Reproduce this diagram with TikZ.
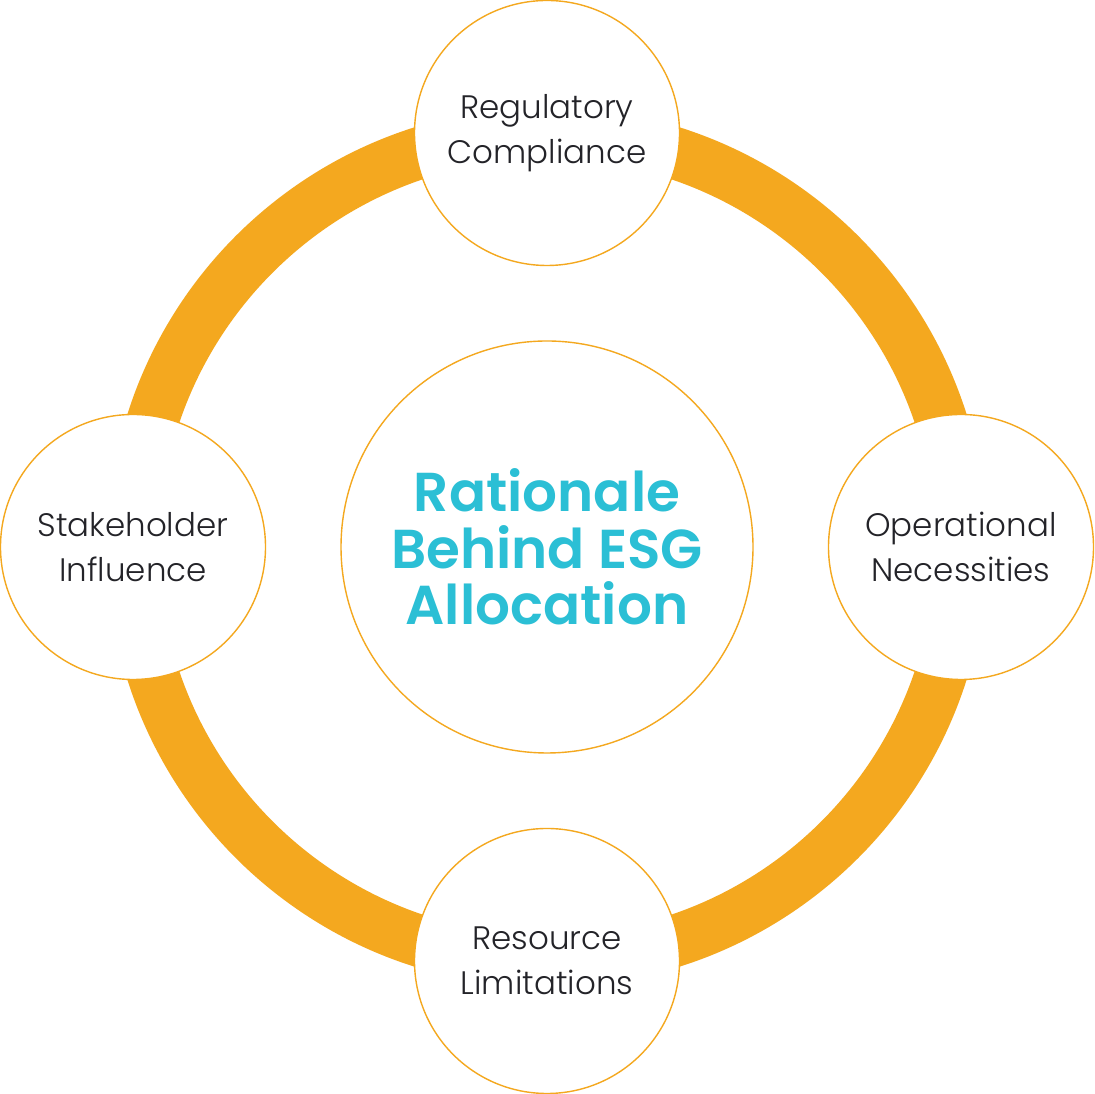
\documentclass[tikz,border=0pt]{standalone}
\usepackage{fontspec}
\setmainfont{Poppins}
\newfontfamily\lightfont{Poppins Light}
\newfontfamily\titlefont{Poppins SemiBold}
\usepackage{tikz}

\begin{document}
\begin{tikzpicture}[x=1pt,y=1pt]
\definecolor{fillColor}{RGB}{255,255,255}
\definecolor{ringColor}{RGB}{244,168,31}
\definecolor{titleColor}{RGB}{43,191,213}
\definecolor{textColor}{RGB}{35,35,40}
\tikzset{
  satellite/.style={circle,draw=ringColor,line width=1.4pt,fill=fillColor,minimum size=265pt,inner sep=0pt,
    text=textColor,align=center,font=\lightfont\fontsize{32.5}{45}\selectfont},
  hub/.style={circle,draw=ringColor,line width=1.4pt,fill=fillColor,minimum size=412pt,inner sep=0pt,
    text=titleColor,align=center,font=\titlefont\fontsize{54.8}{56.5}\selectfont}
}
\path[use as bounding box,fill=fillColor] (0,0) rectangle (1095,1094);

\path[draw=ringColor,line width=52pt] (547,547) circle (414);

\node[hub] (hub) at (547,547) {Rationale\\Behind ESG\\Allocation};

\node[satellite] (regulatory) at (547,961) {Regulatory\\Compliance};
\node[satellite] (operational) at (961,547) {Operational\\Necessities};
\node[satellite] (resource) at (547,133) {Resource\\Limitations};
\node[satellite] (stakeholder) at (133,547) {Stakeholder\\Influence};
\end{tikzpicture}
\end{document}
